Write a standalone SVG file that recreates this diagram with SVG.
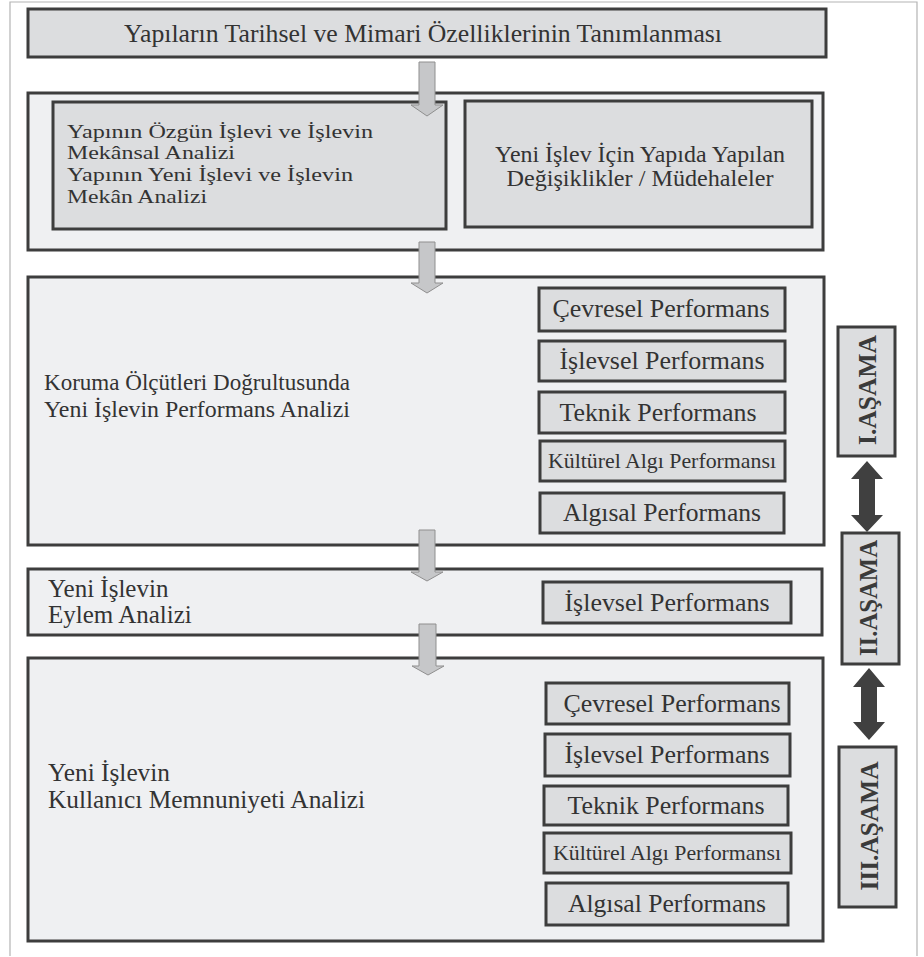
<svg xmlns="http://www.w3.org/2000/svg" width="924" height="957" viewBox="0 0 924 957">
<style>
.frame{fill:none;stroke:#b4b4b4;stroke-width:1.2}
.outer{fill:#eff0f2;stroke:#3d3d3d;stroke-width:3}
.inner{fill:#dcdddf;stroke:#3d3d3d;stroke-width:3}
.t{font-family:"Liberation Serif","Times New Roman",serif;fill:#333333}
.p{font-size:25px}
.stage{font-family:"Liberation Serif","Times New Roman",serif;fill:#3a3a3a;font-weight:bold;font-size:25px}
.arr{fill:#c6c7c9;stroke:#8f8f8f;stroke-width:1}
.darr{fill:#404040}
</style>
<rect width="924" height="957" fill="#ffffff"/>
<path class="frame" d="M10,956 V2 H917 V956"/>

<g id="title">
<rect class="inner" x="28" y="9" width="798" height="48"/>
<text class="t" x="423" y="42" font-size="25" text-anchor="middle" textLength="598" lengthAdjust="spacingAndGlyphs">Yapıların Tarihsel ve Mimari Özelliklerinin Tanımlanması</text>
</g>

<g id="analysis">
<rect class="outer" x="28" y="93" width="795" height="157"/>
</g>
<g id="original-function">
<rect class="inner" x="53" y="102" width="393" height="127"/>
<text class="t" font-size="19.5" x="67" y="137.5" textLength="306" lengthAdjust="spacingAndGlyphs">Yapının Özgün İşlevi ve İşlevin</text>
<text class="t" font-size="19.5" x="67" y="159.2" textLength="168" lengthAdjust="spacingAndGlyphs">Mekânsal Analizi</text>
<text class="t" font-size="19.5" x="67" y="180.9" textLength="286" lengthAdjust="spacingAndGlyphs">Yapının Yeni İşlevi ve İşlevin</text>
<text class="t" font-size="19.5" x="67" y="202.6" textLength="140" lengthAdjust="spacingAndGlyphs">Mekân Analizi</text>
</g>
<g id="interventions">
<rect class="inner" x="465" y="101" width="347" height="126"/>
<text class="t" font-size="23" x="640" y="162" text-anchor="middle" textLength="290" lengthAdjust="spacingAndGlyphs">Yeni İşlev İçin Yapıda Yapılan</text>
<text class="t" font-size="23" x="640" y="186" text-anchor="middle" textLength="267" lengthAdjust="spacingAndGlyphs">Değişiklikler / Müdehaleler</text>
</g>

<g id="performance">
<rect class="outer" x="28" y="277" width="796" height="268"/>
<text class="t" font-size="23" x="44" y="390" textLength="306" lengthAdjust="spacingAndGlyphs">Koruma Ölçütleri Doğrultusunda</text>
<text class="t" font-size="23" x="44" y="417" textLength="306" lengthAdjust="spacingAndGlyphs">Yeni İşlevin Performans Analizi</text>
</g>
<g id="p1-cevresel">
<rect class="inner" x="539" y="288" width="246" height="43"/>
<text class="t p" x="661" y="317" text-anchor="middle" textLength="217" lengthAdjust="spacingAndGlyphs">Çevresel Performans</text>
</g>
<g id="p1-islevsel">
<rect class="inner" x="539" y="341" width="246" height="40"/>
<text class="t p" x="662" y="369" text-anchor="middle" textLength="205" lengthAdjust="spacingAndGlyphs">İşlevsel Performans</text>
</g>
<g id="p1-teknik">
<rect class="inner" x="539" y="392" width="246" height="41"/>
<text class="t p" x="658" y="421" text-anchor="middle" textLength="197" lengthAdjust="spacingAndGlyphs">Teknik Performans</text>
</g>
<g id="p1-kulturel">
<rect class="inner" x="540" y="441" width="245" height="40"/>
<text class="t" font-size="21.5" x="662" y="468" text-anchor="middle" textLength="228" lengthAdjust="spacingAndGlyphs">Kültürel Algı Performansı</text>
</g>
<g id="p1-algisal">
<rect class="inner" x="540" y="493" width="244" height="40"/>
<text class="t p" x="662" y="521" text-anchor="middle" textLength="198" lengthAdjust="spacingAndGlyphs">Algısal Performans</text>
</g>

<g id="action">
<rect class="outer" x="28" y="569" width="794" height="66"/>
<text class="t" font-size="25" x="48" y="597">Yeni İşlevin</text>
<text class="t" font-size="25" x="48" y="623">Eylem Analizi</text>
</g>
<g id="p2-islevsel">
<rect class="inner" x="543" y="582" width="248" height="41"/>
<text class="t p" x="667" y="611" text-anchor="middle" textLength="205" lengthAdjust="spacingAndGlyphs">İşlevsel Performans</text>
</g>

<g id="satisfaction">
<rect class="outer" x="28" y="658" width="795" height="283"/>
<text class="t" font-size="25" x="48" y="781" textLength="122" lengthAdjust="spacingAndGlyphs">Yeni İşlevin</text>
<text class="t" font-size="25" x="48" y="808" textLength="317" lengthAdjust="spacingAndGlyphs">Kullanıcı Memnuniyeti Analizi</text>
</g>
<g id="p3-cevresel">
<rect class="inner" x="546" y="683" width="243" height="41"/>
<text class="t p" x="672" y="712" text-anchor="middle" textLength="217" lengthAdjust="spacingAndGlyphs">Çevresel Performans</text>
</g>
<g id="p3-islevsel">
<rect class="inner" x="545" y="734" width="245" height="42"/>
<text class="t p" x="667" y="763" text-anchor="middle" textLength="205" lengthAdjust="spacingAndGlyphs">İşlevsel Performans</text>
</g>
<g id="p3-teknik">
<rect class="inner" x="544" y="786" width="244" height="39"/>
<text class="t p" x="666" y="814" text-anchor="middle" textLength="197" lengthAdjust="spacingAndGlyphs">Teknik Performans</text>
</g>
<g id="p3-kulturel">
<rect class="inner" x="544" y="833" width="247" height="40"/>
<text class="t" font-size="21.5" x="667" y="860" text-anchor="middle" textLength="228" lengthAdjust="spacingAndGlyphs">Kültürel Algı Performansı</text>
</g>
<g id="p3-algisal">
<rect class="inner" x="546" y="883" width="242" height="42"/>
<text class="t p" x="667" y="912" text-anchor="middle" textLength="198" lengthAdjust="spacingAndGlyphs">Algısal Performans</text>
</g>

<g id="stage1">
<rect class="inner" x="838" y="327" width="57" height="129"/>
<text class="stage" transform="translate(876,390) rotate(-90)" text-anchor="middle" textLength="110" lengthAdjust="spacingAndGlyphs">I.AŞAMA</text>
</g>
<g id="stage2">
<rect class="inner" x="842" y="533" width="57" height="131"/>
<text class="stage" transform="translate(877,598) rotate(-90)" text-anchor="middle" textLength="116" lengthAdjust="spacingAndGlyphs">II.AŞAMA</text>
</g>
<g id="stage3">
<rect class="inner" x="839" y="747" width="57" height="160"/>
<text class="stage" transform="translate(878,826) rotate(-90)" text-anchor="middle" textLength="129" lengthAdjust="spacingAndGlyphs">III.AŞAMA</text>
</g>

<g id="connectors">
<polygon class="arr" points="419,62 435,62 435,105 443,105 427,116 411,105 419,105"/>
<polygon class="arr" points="419,242 435,242 435,283 443,283 427,293 411,283 419,283"/>
<polygon class="arr" points="419,530 435,530 435,572 443,572 427,581 411,572 419,572"/>
<polygon class="arr" points="419,624 436,624 436,666 444,666 428,675 412,666 419,666"/>
<polygon class="darr" points="867,461 883,479 875,479 875,515 883,515 867,532 851,515 859,515 859,479 851,479"/>
<polygon class="darr" points="869,668 885,687 877,687 877,722 885,722 869,740 853,722 861,722 861,687 853,687"/>
</g>
</svg>
